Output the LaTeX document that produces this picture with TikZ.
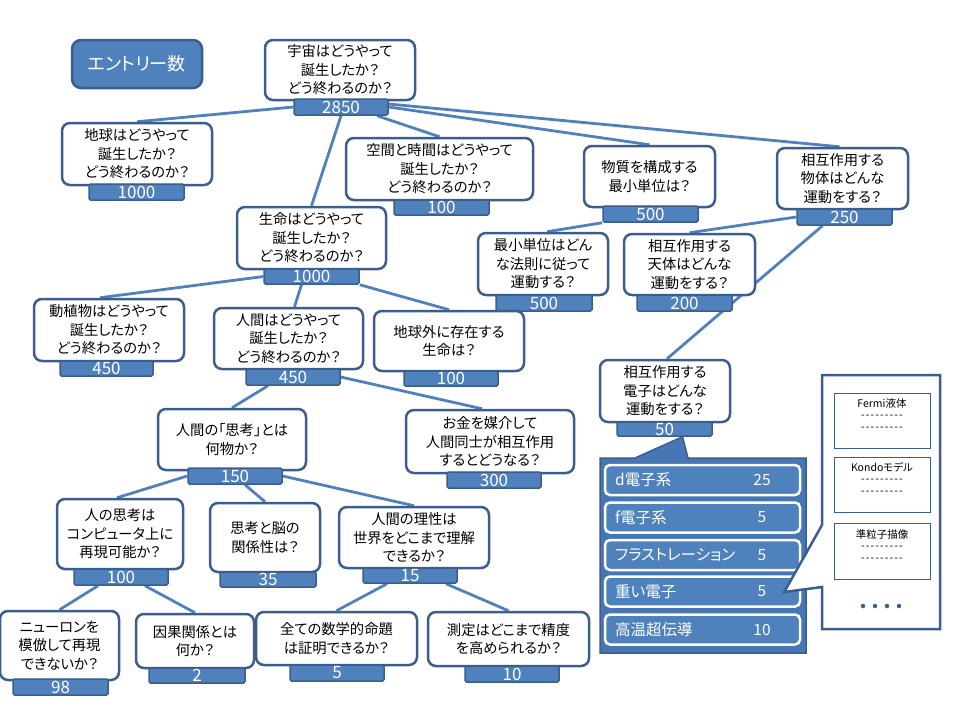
\documentclass[tikz,border=0pt]{standalone}
\usepackage{fontspec}
\setmainfont{Noto Sans CJK JP}[RawFeature=+palt]
\usetikzlibrary{backgrounds}
\definecolor{bdr}{HTML}{3B5E8C}
\definecolor{fillb}{HTML}{4F81BD}
\definecolor{lnc}{HTML}{4F81BD}
\definecolor{panelc}{HTML}{4676B4}
\tikzset{
  qbox/.style={draw=bdr,line width=2.5pt,fill=white,rounded corners=8pt,align=center,inner sep=1pt,
    font=\fontsize{14.3}{18.5}\selectfont,text=black},
  cbar/.style={draw=bdr,line width=1.5pt,fill=fillb,rounded corners=1.5pt,inner sep=0pt,
    text=white,font=\fontsize{17}{17}\selectfont},
  legend/.style={draw=bdr,line width=2.5pt,fill=fillb,rounded corners=9pt,text=white,
    font=\fontsize{18}{18}\selectfont},
  conn/.style={draw=lnc,line width=2.8pt},
  rowbox/.style={draw=white,line width=2.5pt,fill=fillb,rounded corners=5pt},
  rowtxt/.style={text=white,font=\fontsize{15.5}{15.5}\selectfont,inner sep=0pt},
  panelst/.style={draw=bdr,line width=1.5pt,fill=panelc},
  wpanel/.style={draw=bdr,line width=2.5pt,fill=white},
  inbox/.style={draw=bdr,line width=0.8pt,fill=white},
  intxt/.style={align=center,font=\fontsize{10.5}{11.5}\selectfont,text=black,inner sep=0pt},
  dotst/.style={circle,fill=bdr,inner sep=0pt,minimum size=4.5pt}
}
\newcommand\QB[6]{\node[qbox,minimum width={(#4-#2)*1pt},minimum height={(#5-#3)*1pt}] (#1) at ({(#2+#4)/2},{(#3+#5)/2}) {#6};}
\newcommand\CB[6]{\node[cbar,minimum width={(#4-#2)*1pt},minimum height={(#5-#3)*1pt}] (#1) at ({(#2+#4)/2},{(#3+#5)/2}) {#6};}
\newcommand\dashrow{-\kern1.1pt-\kern1.1pt-\kern1.1pt-\kern1.1pt-\kern1.1pt-\kern1.1pt-\kern1.1pt-\kern1.1pt-}
\begin{document}
\begin{tikzpicture}[x=1pt,y=-1pt]
\useasboundingbox (0,0) rectangle (960,720);
\node[legend,minimum width=130pt,minimum height=48pt] (leg) at (137,64) {エントリー数};
% level 0
\QB{top}{265}{40}{415}{100}{宇宙はどうやって\\誕生したか？\\どう終わるのか？}
\CB{topb}{294}{99}{388}{115}{2850}
% level 1
\QB{earth}{62}{123}{212}{185}{地球はどうやって\\誕生したか？\\どう終わるのか？}
\CB{earthb}{89}{184}{184}{200}{1000}
\QB{space}{346}{138}{533}{200}{空間と時間はどうやって\\誕生したか？\\どう終わるのか？}
\CB{spaceb}{394}{200}{489}{215}{100}
\QB{matter}{584}{146}{715}{207}{物質を構成する\\最小単位は？}
\CB{matterb}{603}{206}{698}{222}{500}
\QB{obj}{777}{148}{908}{209}{相互作用する\\物体はどんな\\運動をする？}
\CB{objb}{797}{209}{892}{225}{250}
\QB{life}{237}{207}{386}{269}{生命はどうやって\\誕生したか？\\どう終わるのか？}
\CB{lifeb}{264}{269}{359}{284}{1000}
% level 2
\QB{minu}{478}{233}{608}{295}{最小単位はどん\\な法則に従って\\運動する？}
\CB{minub}{496}{295}{592}{311}{500}
\QB{tentai}{624}{234}{755}{295}{相互作用する\\天体はどんな\\運動をする？}
\CB{tentaib}{637}{295}{732}{311}{200}
\QB{elec}{600}{360}{730}{422}{相互作用する\\電子はどんな\\運動をする？}
\CB{elecb}{617}{422}{712}{436}{50}
\QB{plants}{34}{299}{184}{361}{動植物はどうやって\\誕生したか？\\どう終わるのか？}
\CB{plantsb}{60}{361}{153}{376}{450}
\QB{human}{214}{308}{363}{369}{人間はどうやって\\誕生したか？\\どう終わるのか？}
\CB{humanb}{246}{369}{340}{385}{450}
\QB{extra}{374}{311}{524}{371}{地球外に存在する\\生命は？}
\CB{extrab}{404}{371}{498}{386}{100}
% level 3
\QB{think}{158}{409}{306}{470}{人間の「思考」とは\\何物か？}
\CB{thinkb}{188}{468}{282}{484}{150}
\QB{money}{406}{410}{574}{473}{お金を媒介して\\人間同士が相互作用\\するとどうなる？}
\CB{moneyb}{447}{472}{541}{488}{300}
% level 4
\QB{comp}{57}{499}{183}{569}{人の思考は\\コンピュータ上に\\再現可能か？}
\CB{compb}{74}{569}{168}{585}{100}
\QB{brain}{210}{503}{320}{572}{思考と脳の\\関係性は？}
\CB{brainb}{220}{572}{316}{587}{35}
\QB{reason}{339}{507}{489}{568}{人間の理性は\\世界をどこまで理解\\できるか？}
\CB{reasonb}{363}{568}{457}{583}{15}
% level 5
\QB{neuron}{0}{611}{119}{680}{ニューロンを\\模倣して再現\\できないか？}
\CB{neuronb}{13}{679}{108}{695}{98}
\QB{causal}{136}{614}{254}{668}{因果関係とは\\何か？}
\CB{causalb}{149}{668}{245}{683}{2}
\QB{math}{256}{612}{417}{665}{全ての数学的命題\\は証明できるか？}
\CB{mathb}{290}{665}{384}{681}{5}
\QB{measure}{428}{612}{589}{666}{測定はどこまで精度\\を高められるか？}
\CB{measureb}{465}{666}{559}{682}{10}
% connectors
\begin{pgfonlayer}{background}
\draw[conn] (topb.west) -- (earth.north);
\draw[conn] (topb.south) -- (life.north);
\draw[conn] ([xshift=36pt]topb.south) -- (space.north);
\draw[conn] (topb.east) -- (matter.north);
\draw[conn] ([yshift=3pt]topb.east) -- ([xshift=-3pt]obj.north);
\draw[conn] (matterb.south west) -- ([xshift=4pt]minu.north);
\draw[conn] (objb.west) -- (tentai.north);
\draw[conn] ([xshift=-22pt]objb.south) -- ([xshift=2pt]elec.north);
\draw[conn] (lifeb.west) -- ([xshift=-9pt]plants.north);
\draw[conn] ([xshift=-10pt]lifeb.south) -- ([xshift=6pt]human.north);
\draw[conn] (lifeb.south east) -- (extra.north);
\draw[conn] ([xshift=-25pt]humanb.south) -- (think.north);
\draw[conn] (humanb.east) -- ([xshift=-8pt]money.north);
\draw[conn] (thinkb.west) -- ([xshift=-3pt]comp.north);
\draw[conn] ([xshift=10pt]thinkb.south) -- (brain.north);
\draw[conn] (thinkb.east) -- (reason.north);
\draw[conn] ([xshift=-23pt]compb.south) -- (neuron.north);
\draw[conn] ([xshift=24pt]compb.south) -- (causal.north);
\draw[conn] ([xshift=-23pt]reasonb.south) -- (math.north);
\draw[conn] ([xshift=36pt]reasonb.south) -- (measure.north);
\end{pgfonlayer}
% blue callout panel
\coordinate (ptip) at ([xshift=18pt]elecb.south);
\draw[panelst] (600,458) -- (635,458) -- (ptip) -- (688,458) -- (806,458) -- (806,653) -- (600,653) -- cycle;
\foreach \i/\y/\lab/\num in {1/480/d電子系/25, 2/517.5/f電子系/5, 3/555/フラストレーション/5, 4/591.5/重い電子/5, 5/629.5/高温超伝導/10}{
  \node[rowbox,minimum width=195pt,minimum height=30pt] (row\i) at (702.5,\y) {};
  \node[rowtxt,anchor=west] (rowl\i) at (615,\y) {\lab};
  \node[rowtxt] (rown\i) at (762,\y) {\num};
}
% white callout panel
\coordinate (wtip) at ([xshift=-17pt,yshift=-0.5pt]row4.east);
\draw[wpanel] (822,375) -- (940,375) -- (940,629) -- (822,629) -- (822,587) -- (wtip) -- (822,525) -- cycle;
\node[inbox,minimum width=96pt,minimum height=55pt] (ib1) at (882,420.5) {};
\node[intxt,anchor=north] (it1) at (882,398) {Fermi液体\\\dashrow\\\dashrow};
\node[inbox,minimum width=96pt,minimum height=55pt] (ib2) at (882,484.5) {};
\node[intxt,anchor=north] (it2) at (882,462) {Kondoモデル\\\dashrow\\\dashrow};
\node[inbox,minimum width=96pt,minimum height=56pt] (ib3) at (882,551) {};
\node[intxt,anchor=north] (it3) at (882,529) {準粒子描像\\\dashrow\\\dashrow};
\foreach \k/\x in {1/863,2/875,3/887,4/899}{
  \node[dotst] (dot\k) at (\x,606) {};
}
\end{tikzpicture}
\end{document}
